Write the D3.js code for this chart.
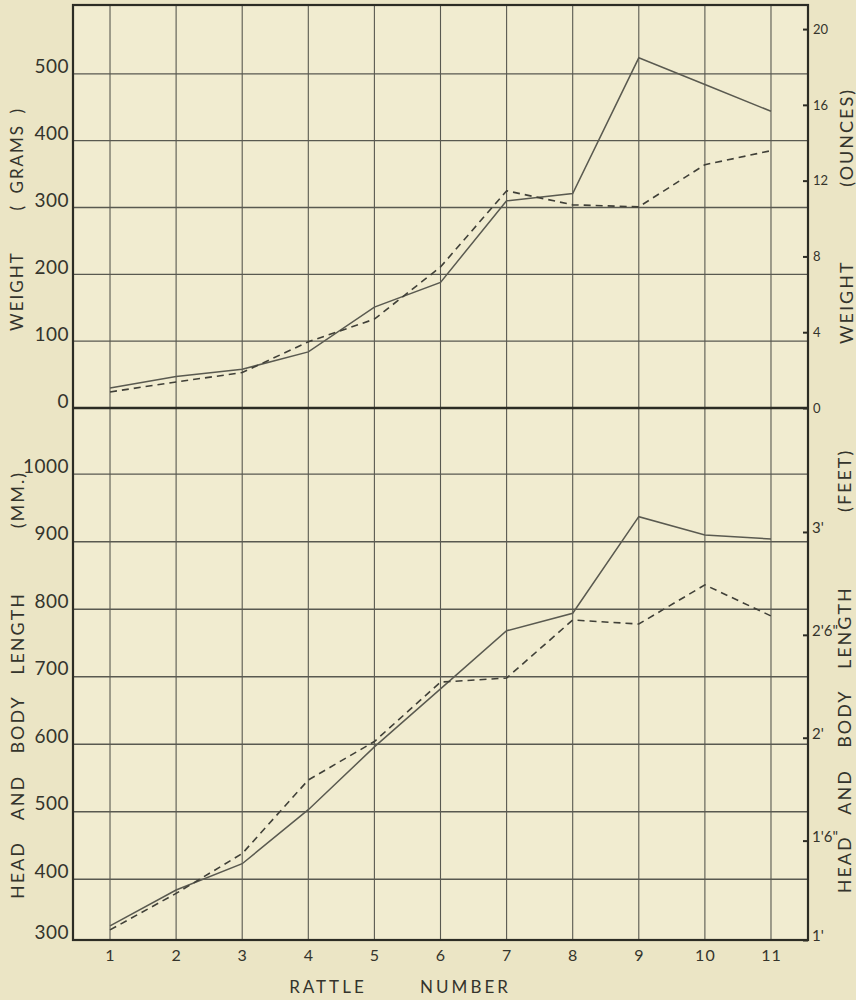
<!DOCTYPE html>
<html>
<head>
<meta charset="utf-8">
<script src="https://cdn.jsdelivr.net/npm/d3@7"></script>
<style>
  html, body { margin: 0; padding: 0; background: #ebe5c5; }
  svg { display: block; }
  .tick text { fill: #34342c; font-family: Lato, 'Open Sans', sans-serif; }
  .title { fill: #34342c; font-family: Lato, 'Open Sans', sans-serif; white-space: pre; }
</style>
</head>
<body>
<svg id="chart" width="856" height="1000"></svg>
<script>
// rattle numbers along the x axis
const rattles = [1, 2, 3, 4, 5, 6, 7, 8, 9, 10, 11];

// weight in grams (top panel)
const weight_solid = [30, 47, 58, 84, 151, 188, 310, 321, 524, 484, 444];
const weight_dashed = [24, 39, 53, 99, 133, 211, 325, 304, 301, 364, 385];

// head and body length in mm (bottom panel)
const length_solid = [331, 384, 423, 503, 596, 682, 768, 794, 937, 910, 904];
const length_dashed = [325, 379, 438, 547, 604, 692, 698, 784, 778, 836, 790];

// tick values / labels
const grams_ticks = [0, 100, 200, 300, 400, 500];
const ounce_ticks = [0, 4, 8, 12, 16, 20];
const mm_ticks = [300, 400, 500, 600, 700, 800, 900, 1000];
const feet_ticks = [1, 1.5, 2, 2.5, 3];
const feet_labels = ["1'", "1'6\"", "2'", "2'6\"", "3'"];

const plot = { left: 73, right: 808, top: 5, mid: 408, bottom: 940 };

const svg = d3.select('#chart');

const x = d3.scaleLinear().domain([0.44, 11.56]).range([plot.left, plot.right]);
const y_grams = d3.scaleLinear().domain([0, 603]).range([plot.mid, plot.top]);
const y_oz = d3
  .scaleLinear()
  .domain(y_grams.domain().map(d => d / 28.3495))
  .range(y_grams.range());
// the drawn scale starts just above 300 mm; the 300 / 1' labels sit on the frame
const y_mm = d3
  .scaleLinear()
  .domain([310, 1098])
  .range([plot.bottom, plot.mid])
  .clamp(true);
const y_ft = d3
  .scaleLinear()
  .domain(y_mm.domain().map(d => d / 304.8))
  .range(y_mm.range())
  .clamp(true);

// paper inside the frame
svg.append('rect')
  .attr('x', plot.left)
  .attr('y', plot.top)
  .attr('width', plot.right - plot.left)
  .attr('height', plot.bottom - plot.top)
  .attr('fill', '#f1ecd0');

// grid
const grid = svg.append('g').attr('class', 'grid').attr('stroke', '#595950');

grid.selectAll('.v')
  .data(rattles)
  .join('line')
  .attr('x1', d => x(d))
  .attr('x2', d => x(d))
  .attr('y1', plot.top)
  .attr('y2', plot.bottom)
  .attr('stroke-width', 1.1);

grid.selectAll('.hg')
  .data(grams_ticks.filter(d => d > 0))
  .join('line')
  .attr('x1', plot.left)
  .attr('x2', plot.right)
  .attr('y1', d => y_grams(d))
  .attr('y2', d => y_grams(d))
  .attr('stroke-width', 1.4);

grid.selectAll('.hm')
  .data(mm_ticks.filter(d => d > 300))
  .join('line')
  .attr('x1', plot.left)
  .attr('x2', plot.right)
  .attr('y1', d => y_mm(d))
  .attr('y2', d => y_mm(d))
  .attr('stroke-width', 1.4);

// data lines
function draw_line(values, yscale, dashed) {
  const line = d3
    .line()
    .x((d, i) => x(rattles[i]))
    .y(d => yscale(d));
  svg.append('path')
    .datum(values)
    .attr('d', line)
    .attr('fill', 'none')
    .attr('stroke', dashed ? '#404038' : '#5a5a50')
    .attr('stroke-width', dashed ? 1.6 : 1.5)
    .attr('stroke-dasharray', dashed ? '7,5' : null);
}

draw_line(weight_solid, y_grams, false);
draw_line(weight_dashed, y_grams, true);
draw_line(length_solid, y_mm, false);
draw_line(length_dashed, y_mm, true);

// frame and divider
svg.append('rect')
  .attr('x', plot.left)
  .attr('y', plot.top)
  .attr('width', plot.right - plot.left)
  .attr('height', plot.bottom - plot.top)
  .attr('fill', 'none')
  .attr('stroke', '#2c2c24')
  .attr('stroke-width', 2.2);

svg.append('line')
  .attr('x1', plot.left)
  .attr('x2', plot.right)
  .attr('y1', y_grams(0))
  .attr('y2', y_grams(0))
  .attr('stroke', '#2c2c24')
  .attr('stroke-width', 2.6);

// axes
function style_axis(g, size, spacing) {
  g.select('.domain').remove();
  g.selectAll('.tick line').attr('stroke', '#2c2c24').attr('stroke-width', 2);
  g.selectAll('.tick text')
    .style('font-size', size + 'px')
    .style('letter-spacing', (spacing || 0) + 'px');
}

svg.append('g')
  .attr('transform', `translate(${plot.left},0)`)
  .call(d3.axisLeft(y_grams).tickValues(grams_ticks).tickSize(0).tickPadding(4))
  .call(g => style_axis(g, 19, 0.5))
  .call(g => g.selectAll('.tick text').attr('y', -7));

svg.append('g')
  .attr('transform', `translate(${plot.left},0)`)
  .call(
    d3.axisLeft(y_mm).tickValues(mm_ticks).tickFormat(d3.format('d')).tickSize(0).tickPadding(4)
  )
  .call(g => style_axis(g, 19, 0.5))
  .call(g => g.selectAll('.tick text').attr('y', -8));

svg.append('g')
  .attr('transform', `translate(${plot.right},0)`)
  .call(
    d3.axisRight(y_oz).tickValues(ounce_ticks).tickSizeInner(-5).tickSizeOuter(0).tickPadding(5)
  )
  .call(g => style_axis(g, 13));

svg.append('g')
  .attr('transform', `translate(${plot.right},0)`)
  .call(
    d3
      .axisRight(y_ft)
      .tickValues(feet_ticks)
      .tickFormat((d, i) => feet_labels[i])
      .tickSizeInner(-5)
      .tickSizeOuter(0)
      .tickPadding(4)
  )
  .call(g => style_axis(g, 15))
  .call(g => g.selectAll('.tick text').attr('y', -4));

svg.append('g')
  .attr('transform', `translate(0,${plot.bottom})`)
  .call(d3.axisBottom(x).tickValues(rattles).tickSize(0).tickPadding(10))
  .call(g => style_axis(g, 16, 1));

// axis titles
function v_title(text, cx, cy, size) {
  svg.append('text')
    .attr('class', 'title')
    .attr('transform', `translate(${cx},${cy}) rotate(-90)`)
    .attr('text-anchor', 'middle')
    .attr('dominant-baseline', 'central')
    .style('font-size', size + 'px')
    .style('letter-spacing', '2px')
    .style('word-spacing', '4px')
    .text(text);
}

v_title('WEIGHT    ( GRAMS )', 16, 219, 17);
v_title('WEIGHT       (OUNCES)', 846, 216, 18);
v_title('HEAD  AND  BODY  LENGTH      (MM.)', 17, 685, 18);
v_title('HEAD  AND  BODY  LENGTH       (FEET)', 844, 671, 18);

svg.append('text')
  .attr('class', 'title')
  .attr('x', 400)
  .attr('y', 986)
  .attr('text-anchor', 'middle')
  .attr('dominant-baseline', 'central')
  .style('font-size', '17px')
  .style('letter-spacing', '3px')
  .style('word-spacing', '6px')
  .text('RATTLE    NUMBER');
</script>
</body>
</html>
